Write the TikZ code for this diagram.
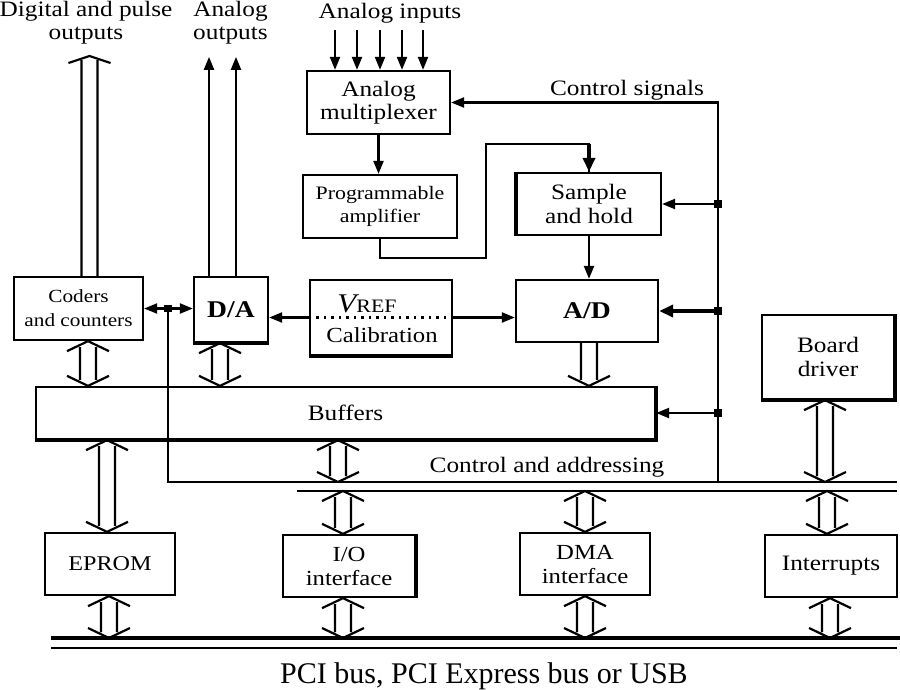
\documentclass[tikz,border=0pt]{standalone}
\usepackage{fontspec}
\setmainfont{Liberation Serif}[FakeStretch=1.15]
\newfontfamily\pcifont{Liberation Serif}
\usetikzlibrary{arrows.meta,calc}
\newcommand\fs[2]{\fontsize{#1}{#2}\selectfont}
\tikzset{
 box/.style={draw, line width=2.3pt, inner sep=0pt, align=center, rectangle},
 conn/.style={line width=2.2pt},
 arr/.style={conn, -{Triangle[length=13pt,width=10pt]}},
 barr/.style={conn, {Triangle[length=13pt,width=10pt]}-{Triangle[length=13pt,width=10pt]}},
 tarr/.style={line width=4.2pt, -{Triangle[length=14pt,width=12pt]}},
 thickedge/.style={line width=4.2pt},
 dot/.style={fill, rectangle, minimum size=7.5pt, inner sep=0pt},
 lbl/.style={inner sep=0pt, font=\fs{22}{23}},
 hollowline/.style={line width=2.2pt, line join=miter},
 hollow both/.style={hollowline, to path={
   ([xshift=-8pt,yshift=-6pt]\tikztostart) -- ([xshift=-8pt,yshift=6pt]\tikztotarget)
   ([xshift=8pt,yshift=-6pt]\tikztostart) -- ([xshift=8pt,yshift=6pt]\tikztotarget)
   ([xshift=-21pt,yshift=-10pt]\tikztostart) -- (\tikztostart) -- ([xshift=21pt,yshift=-10pt]\tikztostart)
   ([xshift=-21pt,yshift=10pt]\tikztotarget) -- (\tikztotarget) -- ([xshift=21pt,yshift=10pt]\tikztotarget)}},
 hollow up/.style={hollowline, to path={
   ([xshift=-8pt,yshift=-4pt]\tikztostart) -- ([xshift=-8pt]\tikztotarget)
   ([xshift=8pt,yshift=-4pt]\tikztostart) -- ([xshift=8pt]\tikztotarget)
   ([xshift=-21pt,yshift=-7pt]\tikztostart) -- (\tikztostart) -- ([xshift=21pt,yshift=-7pt]\tikztostart)}},
 hollow down/.style={hollowline, to path={
   ([xshift=-8pt]\tikztostart) -- ([xshift=-8pt,yshift=6pt]\tikztotarget)
   ([xshift=8pt]\tikztostart) -- ([xshift=8pt,yshift=6pt]\tikztotarget)
   ([xshift=-21pt,yshift=10pt]\tikztotarget) -- (\tikztotarget) -- ([xshift=21pt,yshift=10pt]\tikztotarget)}},
}
\begin{document}
\begin{tikzpicture}[x=1pt,y=-1pt]
\path[use as bounding box] (0,0) rectangle (900,689);

% boxes
\node[box, minimum width=143pt, minimum height=63pt, font=\fs{22}{23}] (mux) at (378.5,102.5) {Analog\\multiplexer};
\node[box, minimum width=154pt, minimum height=63pt, font=\fs{19}{23}] (amp) at (380,206.5) {Programmable\\amplifier};
\node[box, minimum width=144pt, minimum height=62pt, font=\fs{22}{24}] (sh) at (589,204) {Sample\\and hold};
\node[box, minimum width=142pt, minimum height=62pt, font=\fs{24}{26}\bfseries] (ad) at (587,311) {A/D};
\node[box, minimum width=142pt, minimum height=75pt] (vref) at (381,317.5) {};
\node[box, minimum width=74pt, minimum height=65pt, font=\fs{24}{26}\bfseries] (da) at (231,309.5) {D/A};
\node[box, minimum width=129pt, minimum height=63pt, font=\fs{18.5}{24}] (coders) at (78.5,308.5) {Coders\\and counters};
\node[box, minimum width=619pt, minimum height=52pt, font=\fs{22}{24}] (buf) at (345.5,413) {Buffers};
\node[box, minimum width=132pt, minimum height=84pt, font=\fs{22}{24}] (board) at (828,357) {Board\\driver};
\node[box, minimum width=130pt, minimum height=62pt, font=\fs{21}{24}] (eprom) at (110,564) {EPROM};
\node[box, minimum width=132pt, minimum height=62pt, font=\fs{21.5}{24}] (io) at (349,566) {I/O\\interface};
\node[box, minimum width=130pt, minimum height=62pt, font=\fs{21.5}{24}] (dma) at (585,564) {DMA\\interface};
\node[box, minimum width=132pt, minimum height=62pt, font=\fs{22}{24}] (intr) at (831,566) {Interrupts};

% thicker box edges
\draw[thickedge] (sh.north west) -- (sh.south west);
\draw[thickedge] (vref.south west) -- (vref.south east);
\draw[thickedge] (da.south west) -- (da.south east);
\draw[thickedge] (buf.north east) -- (buf.south east) -- (buf.south west);
\draw[thickedge] (board.south west) -- (board.south east) -- (board.north east);
\draw[thickedge] (io.north east) -- (io.south east);

% Vref contents
\draw[line width=2.2pt, dash pattern=on 2.5pt off 5pt] (vref.west) -- (vref.east);
\node[anchor=base, inner sep=0pt] (vreft) at (367,312) {\fs{27}{27}\itshape V\upshape\fs{19}{19}REF};
\node[anchor=base, lbl, font=\fs{21.5}{23}] (calt) at (382,342) {Calibration};

% labels
\node[lbl, anchor=north, align=center] (dout) at (86,1.5) {Digital and pulse\\outputs};
\node[lbl, anchor=north, align=center] (aout) at (230.5,1.5) {Analog\\outputs};
\node[lbl, anchor=base] (ain) at (390,18) {Analog inputs};
\node[lbl, anchor=base] (csig) at (627,95) {Control signals};
\node[lbl, anchor=base] (cadr) at (547,472) {Control and addressing};
\node[anchor=base, inner sep=0pt, font=\pcifont\fs{30}{32}] (pci) at (484,683) {PCI bus, PCI Express bus or USB};

% coordinates
\coordinate (cbot) at (718,482);
\coordinate (bus1e) at (897,482);
\coordinate (bus2w) at (297,491);
\coordinate (bus2e) at (897,491);
\coordinate (pciw) at (51,638);
\coordinate (pcie) at (900,638);
\coordinate (pci2w) at (51,648);
\coordinate (pci2e) at (897,648);
\coordinate (r1) at (486,258);
\coordinate (r2) at (486,144);

% control signals
\draw[arr] (cbot) |- (mux.east);
\draw[arr] (cbot |- sh.east) -- (sh.east);
\draw[tarr] (cbot |- ad.east) -- (ad.east);
\draw[arr] (cbot |- buf.east) -- (buf.east);
\node[dot] at (cbot |- sh.east) {};
\node[dot] at (cbot |- ad.east) {};
\node[dot] at (cbot |- buf.east) {};

% analog chain
\foreach \x in {335,357,380,402,423} \draw[arr] (\x,30) -- (\x,0 |- mux.north);
\draw[arr] (mux.south) -- (mux.south |- amp.north);
\draw[conn] (amp.south) |- (r1) -- (r2) -| (sh.north);
\draw[tarr] (sh.north |- r2) -- (sh.north);
\draw[arr] (sh.south) -- (sh.south |- ad.north);
\draw[arr] (vref.east) -- (vref.east -| ad.west);
\draw[arr] (vref.west) -- (vref.west -| da.east);
\draw[arr] ([xshift=-22pt]da.north) -- ++(0,-219);
\draw[arr] ([xshift=5pt]da.north) -- ++(0,-219);

% coders / D/A and control bus
\draw[barr] (coders.east) -- (coders.east -| da.west);
\coordinate (jc) at (168,0 |- coders.east);
\draw[conn] (jc) |- (bus1e);
\node[dot] at (jc) {};
\draw[conn] (bus2w) -- (bus2e);
\draw[line width=4.2pt] (pciw) -- (pcie);
\draw[conn] (pci2w) -- (pci2e);

% hollow bus arrows
\draw[hollow up] (89.5,56) to (89.5,0 |- coders.north);
\draw[hollow both] (88,0 |- coders.south) to (88,0 |- buf.north);
\draw[hollow both] (220,0 |- da.south) to (220,0 |- buf.north);
\draw[hollow down] (589,0 |- ad.south) to (589,0 |- buf.north);
\draw[hollow both] (338,0 |- buf.south) to (338,0 |- cbot);
\draw[hollow both] (107,0 |- buf.south) to (107,0 |- eprom.north);
\draw[hollow both] (109,0 |- eprom.south) to (109,0 |- pciw);
\draw[hollow both] (825,0 |- board.south) to (825,0 |- cbot);
\draw[hollow both] (343,0 |- bus2w) to (343,0 |- io.north);
\draw[hollow both] (343,0 |- io.south) to (343,0 |- pciw);
\draw[hollow both] (585,0 |- bus2w) to (585,0 |- dma.north);
\draw[hollow both] (585,0 |- dma.south) to (585,0 |- pciw);
\draw[hollow both] (827,0 |- bus2w) to (827,0 |- intr.north);
\draw[hollow both] (830,0 |- intr.south) to (830,0 |- pciw);
\end{tikzpicture}
\end{document}
